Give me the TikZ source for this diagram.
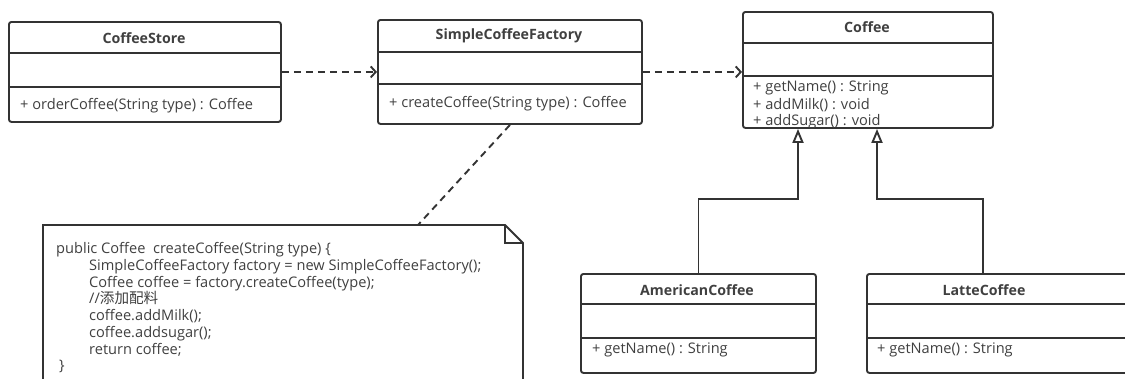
\documentclass[tikz,border=0pt]{standalone}
\usepackage{fontspec}
\setmainfont{Open Sans}
\newfontfamily\cjk{Noto Sans CJK SC}
\usetikzlibrary{arrows.meta,calc}
\definecolor{linec}{HTML}{333333}
\definecolor{textc}{HTML}{404040}
\tikzset{
  classbox/.style={draw=linec, line width=1.9pt, rounded corners=2.5pt, fill=white, inner sep=0pt, anchor=north west},
  sepline/.style={draw=linec, line width=1.9pt},
  ctitle/.style={font=\bfseries\fontsize{14.2}{16}\selectfont, text=textc, inner sep=0pt},
  member/.style={font=\fontsize{14.6}{16}\selectfont, text=textc, anchor=west, inner sep=0pt},
  dep/.style={draw=linec, line width=1.9pt, dash pattern=on 7pt off 5pt, -{Straight Barb[length=5pt,width=11pt]}},
  inh/.style={draw=linec, line width=1.9pt, -{Triangle[open, length=14pt, width=11pt, fill=white]}},
  notelink/.style={draw=linec, line width=1.9pt, dash pattern=on 7pt off 5pt},
  notebox/.style={draw=linec, line width=1.9pt, fill=white},
  notetext/.style={font=\fontsize{14.6}{16.7}\selectfont, text=textc, inner sep=0pt, anchor=north west, align=left}
}
\begin{document}
\begin{tikzpicture}[x=1pt,y=-1pt]
\useasboundingbox (0,0) rectangle (1125,378);
\clip (0,0) rectangle (1125,378);

% CoffeeStore
\node[classbox, minimum width=272pt, minimum height=100pt] (cs) at (8,21) {};
\draw[sepline] (8,53) -- (280,53) (8,87) -- (280,87);
\node[ctitle] (cst) at (144,38) {CoffeeStore};
\node[member] (csm) at (20,106) {+ orderCoffee(String type) : Coffee};

% SimpleCoffeeFactory
\node[classbox, minimum width=264pt, minimum height=104pt] (scf) at (377,19) {};
\draw[sepline] (377,52) -- (641,52) (377,84) -- (641,84);
\node[ctitle] (scft) at (509,36) {SimpleCoffeeFactory};
\node[member] (scfm) at (389,104) {+ createCoffee(String type) : Coffee};

% Coffee
\node[classbox, minimum width=250pt, minimum height=116pt] (co) at (742,11) {};
\draw[sepline] (742,43) -- (992,43) (742,76) -- (992,76);
\node[ctitle] (cot) at (867,27) {Coffee};
\node[member] (com1) at (753,88) {+ getName() : String};
\node[member] (com2) at (753,105) {+ addMilk() : void};
\node[member] (com3) at (753,122) {+ addSugar() : void};

% AmericanCoffee
\node[classbox, minimum width=235pt, minimum height=99pt] (am) at (580,273) {};
\draw[sepline] (580,304) -- (815,304) (580,338) -- (815,338);
\node[ctitle] (amt) at (697,290) {AmericanCoffee};
\node[member] (amm) at (592,350) {+ getName() : String};

% LatteCoffee
\node[classbox, minimum width=280pt, minimum height=99pt] (la) at (866,273) {};
\draw[sepline] (866,304) -- (1146,304) (866,338) -- (1146,338);
\node[ctitle] (lat) at (984,290) {LatteCoffee};
\node[member] (lam) at (877,350) {+ getName() : String};

% dependencies
\draw[dep] (cs.east) -- (scf.west);
\draw[dep] (scf.east) -- (scf.east -| co.west);

% inheritance
\coordinate (coA) at ($(co.south west)+(56,0)$);
\coordinate (coB) at ($(co.south west)+(135,0)$);
\coordinate (laT) at ($(la.north west)+(117,0)$);
\draw[inh] (am.north) -- ++(0,-74) -| (coA);
\draw[inh] (laT) -- ++(0,-74) -| (coB);

% note
\draw[notebox] (43,225) -- (505,225) -- (523,243) -- (523,400) -- (43,400) -- cycle;
\draw[sepline] (505,225) -- (505,243) -- (523,243);
\coordinate (nt) at (418,225);
\draw[notelink] (scf.south) -- (nt);
\node[notetext] (ntx) at (56,242.5) {public Coffee\ \ createCoffee(String type) \{\\
\hspace*{33pt}SimpleCoffeeFactory factory = new SimpleCoffeeFactory();\\
\hspace*{33pt}Coffee coffee = factory.createCoffee(type);\\
\hspace*{33pt}//{\cjk 添加配料}\\
\hspace*{33pt}coffee.addMilk();\\
\hspace*{33pt}coffee.addsugar();\\
\hspace*{33pt}return coffee;\\
\hspace*{3pt}\}};
\end{tikzpicture}
\end{document}
